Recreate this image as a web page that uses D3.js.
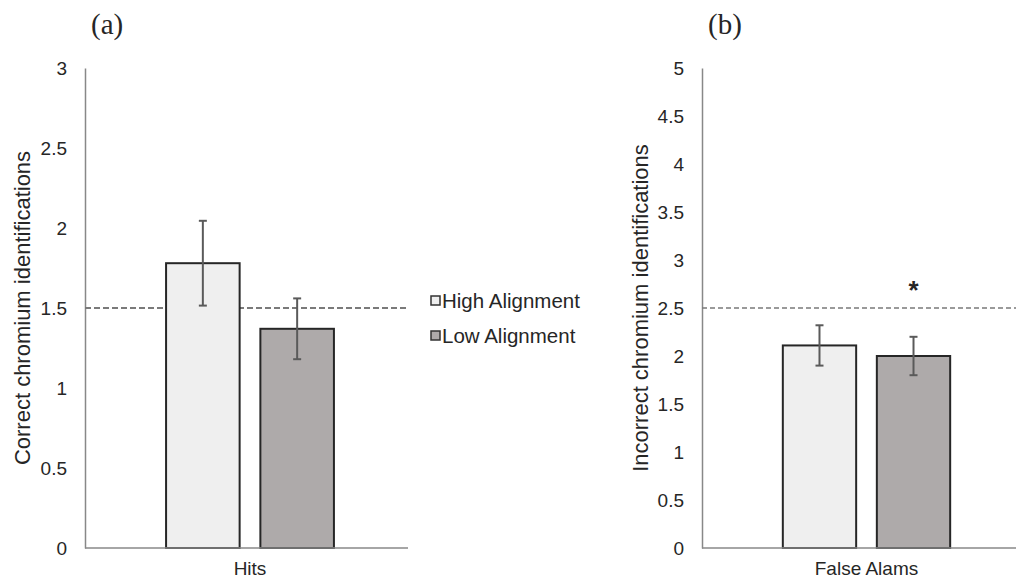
<!DOCTYPE html>
<html>
<head>
<meta charset="utf-8">
<script src="https://cdn.jsdelivr.net/npm/d3@7"></script>
<style>
  body { margin: 0; background: #fff; }
  svg { display: block; }
  text { font-family: Arial, 'Liberation Sans', sans-serif; fill: #262626; }
</style>
</head>
<body>
<svg id="chart" width="1016" height="580"></svg>
<script>
// series (legend order)
const seriesNames = ['High Alignment', 'Low Alignment'];
const seriesFill = ['#efefef', '#aeaaaa'];

// panel (a) hits
const hitsCategory = ['Hits'];
const hitsMeans = [1.78, 1.37];
const hitsErrors = [0.265, 0.19];
const hitsTicks = [0, 0.5, 1, 1.5, 2, 2.5, 3];
const hitsChance = 1.5;

// panel (b) false alarms
const faCategory = ['False Alams'];
const faMeans = [2.11, 2.0];
const faErrors = [0.21, 0.2];
const faTicks = [0, 0.5, 1, 1.5, 2, 2.5, 3, 3.5, 4, 4.5, 5];
const faChance = 2.5;

const svg = d3.select('#chart');

const drawPanel = (opts) => {
  let { left, right, bandRight, top, bottom, yMax, ticks, category, means, errors, chance, dash, dashWidth, title, label, titleX, star } = opts;
  let g = svg.append('g');
  let y = d3.scaleLinear().domain([0, yMax]).range([bottom, top]);
  let x = d3.scaleBand().domain(category).range([left, bandRight]).paddingOuter(0.483).paddingInner(0);
  let xs = d3.scaleBand().domain(seriesNames).range([0, x.bandwidth()]).paddingInner(0.22).paddingOuter(0);

  // y axis, no ticks, just labels
  let yAxis = g.append('g')
    .attr('transform', `translate(${left},0)`)
    .call(d3.axisLeft(y).tickValues(ticks).tickSize(0).tickPadding(18).tickFormat(d => String(d)));
  yAxis.select('.domain').attr('stroke', '#888').attr('stroke-width', 1.5);
  yAxis.selectAll('text').attr('font-size', 19).attr('fill', '#262626')
    .style('font-family', 'Arial, Liberation Sans, sans-serif');

  // chance line
  g.append('line')
    .attr('x1', left).attr('x2', right)
    .attr('y1', y(chance)).attr('y2', y(chance))
    .attr('stroke', '#7a7a7a').attr('stroke-width', dashWidth)
    .attr('stroke-dasharray', dash);

  // bars
  let cat = category[0];
  let rows = seriesNames.map((s, i) => ({ s, i, mean: means[i], err: errors[i] }));
  g.selectAll('rect.bar').data(rows).enter().append('rect')
    .attr('class', 'bar')
    .attr('x', d => x(cat) + xs(d.s))
    .attr('y', d => y(d.mean))
    .attr('width', xs.bandwidth())
    .attr('height', d => y(0) - y(d.mean))
    .attr('fill', d => seriesFill[d.i])
    .attr('stroke', '#262626')
    .attr('stroke-width', 2);

  // error bars
  let eb = g.selectAll('g.err').data(rows).enter().append('g').attr('class', 'err')
    .attr('stroke', '#5a5a5a').attr('stroke-width', 2);
  eb.append('line')
    .attr('x1', d => x(cat) + xs(d.s) + xs.bandwidth() / 2)
    .attr('x2', d => x(cat) + xs(d.s) + xs.bandwidth() / 2)
    .attr('y1', d => y(d.mean + d.err))
    .attr('y2', d => y(d.mean - d.err));
  [1, -1].forEach(sign => {
    eb.append('line')
      .attr('x1', d => x(cat) + xs(d.s) + xs.bandwidth() / 2 - 4)
      .attr('x2', d => x(cat) + xs(d.s) + xs.bandwidth() / 2 + 4)
      .attr('y1', d => y(d.mean + sign * d.err))
      .attr('y2', d => y(d.mean + sign * d.err));
  });

  // x axis baseline
  g.append('line')
    .attr('x1', left).attr('x2', right)
    .attr('y1', y(0)).attr('y2', y(0))
    .attr('stroke', '#888').attr('stroke-width', 1.5);

  g.append('text')
    .attr('x', x(cat) + x.bandwidth() / 2)
    .attr('y', y(0) + 27)
    .attr('text-anchor', 'middle')
    .attr('font-size', 19)
    .text(cat);

  // y title
  g.append('text')
    .attr('transform', `translate(${titleX},${(top + bottom) / 2}) rotate(-90)`)
    .attr('text-anchor', 'middle')
    .attr('font-size', 22)
    .text(title);

  // panel letter
  g.append('text')
    .attr('x', left + 6)
    .attr('y', top - 34)
    .attr('font-size', 29)
    .style('font-family', 'Times New Roman, Liberation Serif, serif')
    .attr('fill', '#000')
    .text(label);

  if (star) {
    let r = rows[1];
    g.append('text')
      .attr('x', x(cat) + xs(r.s) + xs.bandwidth() / 2)
      .attr('y', y(r.mean + r.err) - 38)
      .attr('text-anchor', 'middle')
      .attr('font-size', 26)
      .attr('font-weight', 'bold')
      .attr('fill', '#222')
      .text('*');
  }
};

drawPanel({
  left: 85, right: 408, bandRight: 415, top: 68, bottom: 548, yMax: 3,
  ticks: hitsTicks, category: hitsCategory, means: hitsMeans, errors: hitsErrors,
  chance: hitsChance, dash: '6,3', dashWidth: 2,
  title: 'Correct chromium identifications', label: '(a)', titleX: 30, star: false
});

drawPanel({
  left: 702, right: 1016, bandRight: 1031, top: 68, bottom: 548, yMax: 5,
  ticks: faTicks, category: faCategory, means: faMeans, errors: faErrors,
  chance: faChance, dash: '5,3', dashWidth: 1.4,
  title: 'Incorrect chromium identifications', label: '(b)', titleX: 648, star: true
});

// legend
let legend = svg.append('g').attr('transform', 'translate(431,0)');
let item = legend.selectAll('g').data(seriesNames).enter().append('g')
  .attr('transform', (d, i) => `translate(0,${301 + i * 35})`);
item.append('rect')
  .attr('x', 0).attr('y', -5).attr('width', 9).attr('height', 9)
  .attr('fill', (d, i) => seriesFill[i])
  .attr('stroke', '#333').attr('stroke-width', 1.5);
item.append('text')
  .attr('x', 11).attr('y', 7)
  .attr('font-size', 20.5)
  .text(d => d);
</script>
</body>
</html>
